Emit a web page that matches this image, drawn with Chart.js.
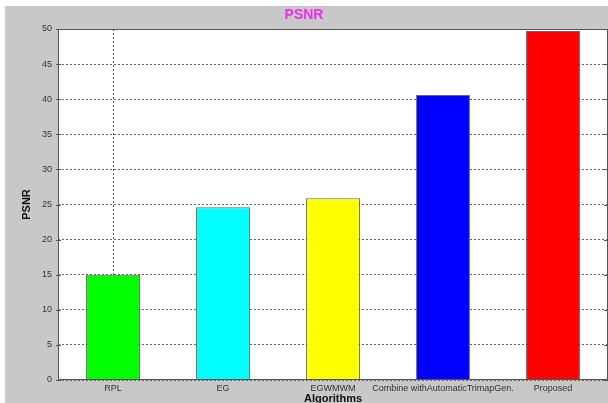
<!DOCTYPE html>
<html>
<head>
<meta charset="utf-8">
<script src="https://cdn.jsdelivr.net/npm/chart.js@4"></script>
<style>
  html, body { margin: 0; padding: 0; background: #ffffff; }
  #wrap { width: 608px; height: 403px; position: relative; }
</style>
</head>
<body>
<div id="wrap"><canvas id="psnrChart"></canvas></div>
<script>
// ======================= DATA =======================
const algorithms = ['RPL', 'EG', 'EGWMWM', 'Combine withAutomaticTrimapGen.', 'Proposed'];
const psnrValues = [15.0, 24.6, 25.9, 40.6, 49.7];
const barColors = ['#00ff00', '#00ffff', '#ffff00', '#0000ff', '#ff0000'];
const yTicks = [0, 5, 10, 15, 20, 25, 30, 35, 40, 45, 50];

// figure background (matlab gray) + box around the axes with inward ticks
const figurePlugin = {
  id: 'figurePlugin',
  beforeDraw(chart) {
    const { ctx, width, height } = chart;
    ctx.save();
    ctx.fillStyle = '#ffffff';
    ctx.fillRect(0, 0, width, height);
    ctx.fillStyle = '#c8c8c8';
    ctx.fillRect(5, 6, width - 5, height - 6);
    const a = chart.chartArea;
    ctx.fillStyle = '#ffffff';
    ctx.fillRect(a.left, a.top, a.right - a.left, a.bottom - a.top);
    ctx.restore();
  },
  afterDraw(chart) {
    const { ctx } = chart;
    const a = chart.chartArea;
    const y = chart.scales.y;
    ctx.save();
    ctx.strokeStyle = '#555555';
    ctx.lineWidth = 1;
    ctx.strokeRect(a.left + 0.5, a.top + 0.5, a.right - a.left - 1, a.bottom - a.top - 1);
    ctx.beginPath();
    yTicks.forEach(v => {
      const py = Math.round(y.getPixelForValue(v)) + 0.5;
      ctx.moveTo(a.left - 2, py);
      ctx.lineTo(a.left + 3, py);
      ctx.moveTo(a.right - 4, py);
      ctx.lineTo(a.right, py);
    });
    ctx.stroke();
    ctx.restore();
  }
};

new Chart(document.getElementById('psnrChart'), {
  type: 'bar',
  data: {
    labels: algorithms,
    datasets: [{
      label: 'PSNR',
      data: psnrValues,
      backgroundColor: barColors,
      borderColor: 'rgba(40, 40, 40, 0.7)',
      borderWidth: 1,
      barPercentage: 0.49,
      categoryPercentage: 1
    }]
  },
  options: {
    responsive: true,
    maintainAspectRatio: false,
    animation: false,
    layout: { padding: 0 },
    plugins: {
      legend: { display: false },
      tooltip: { enabled: false },
      title: {
        display: true,
        text: 'PSNR',
        color: '#f02cf0',
        font: { family: 'Liberation Sans, Arial, sans-serif', size: 14, weight: 'bold' },
        padding: { top: 7, bottom: 5.2 }
      }
    },
    scales: {
      x: {
        afterFit: (scale) => { scale.height = 23; },
        grid: {
          offset: false,
          drawTicks: false,
          color: (c) => (c.index === 0 ? '#555555' : 'rgba(0,0,0,0)'),
          lineWidth: 1
        },
        border: { display: false, dash: [2, 2] },
        ticks: {
          padding: 3,
          color: '#333333',
          font: { family: 'Liberation Sans, Arial, sans-serif', size: 9 },
          maxRotation: 0,
          autoSkip: false
        },
        title: {
          display: true,
          text: 'Algorithms',
          color: '#111111',
          font: { family: 'Liberation Sans, Arial, sans-serif', size: 11, weight: 'bold' },
          padding: { top: 0, bottom: -3 }
        }
      },
      y: {
        min: 0,
        max: 50,
        afterFit: (scale) => { scale.width = 58; },
        afterBuildTicks: (scale) => { scale.ticks = yTicks.map(v => ({ value: v })); },
        grid: {
          drawTicks: false,
          color: '#666666',
          lineWidth: 1
        },
        border: { display: false, dash: [2, 2] },
        ticks: {
          padding: 6,
          color: '#333333',
          font: { family: 'Liberation Sans, Arial, sans-serif', size: 9 }
        },
        title: {
          display: true,
          text: 'PSNR',
          color: '#111111',
          font: { family: 'Liberation Sans, Arial, sans-serif', size: 11, weight: 'bold' },
          padding: { top: 20, bottom: 0 }
        }
      }
    }
  },
  plugins: [figurePlugin]
});
</script>
</body>
</html>
